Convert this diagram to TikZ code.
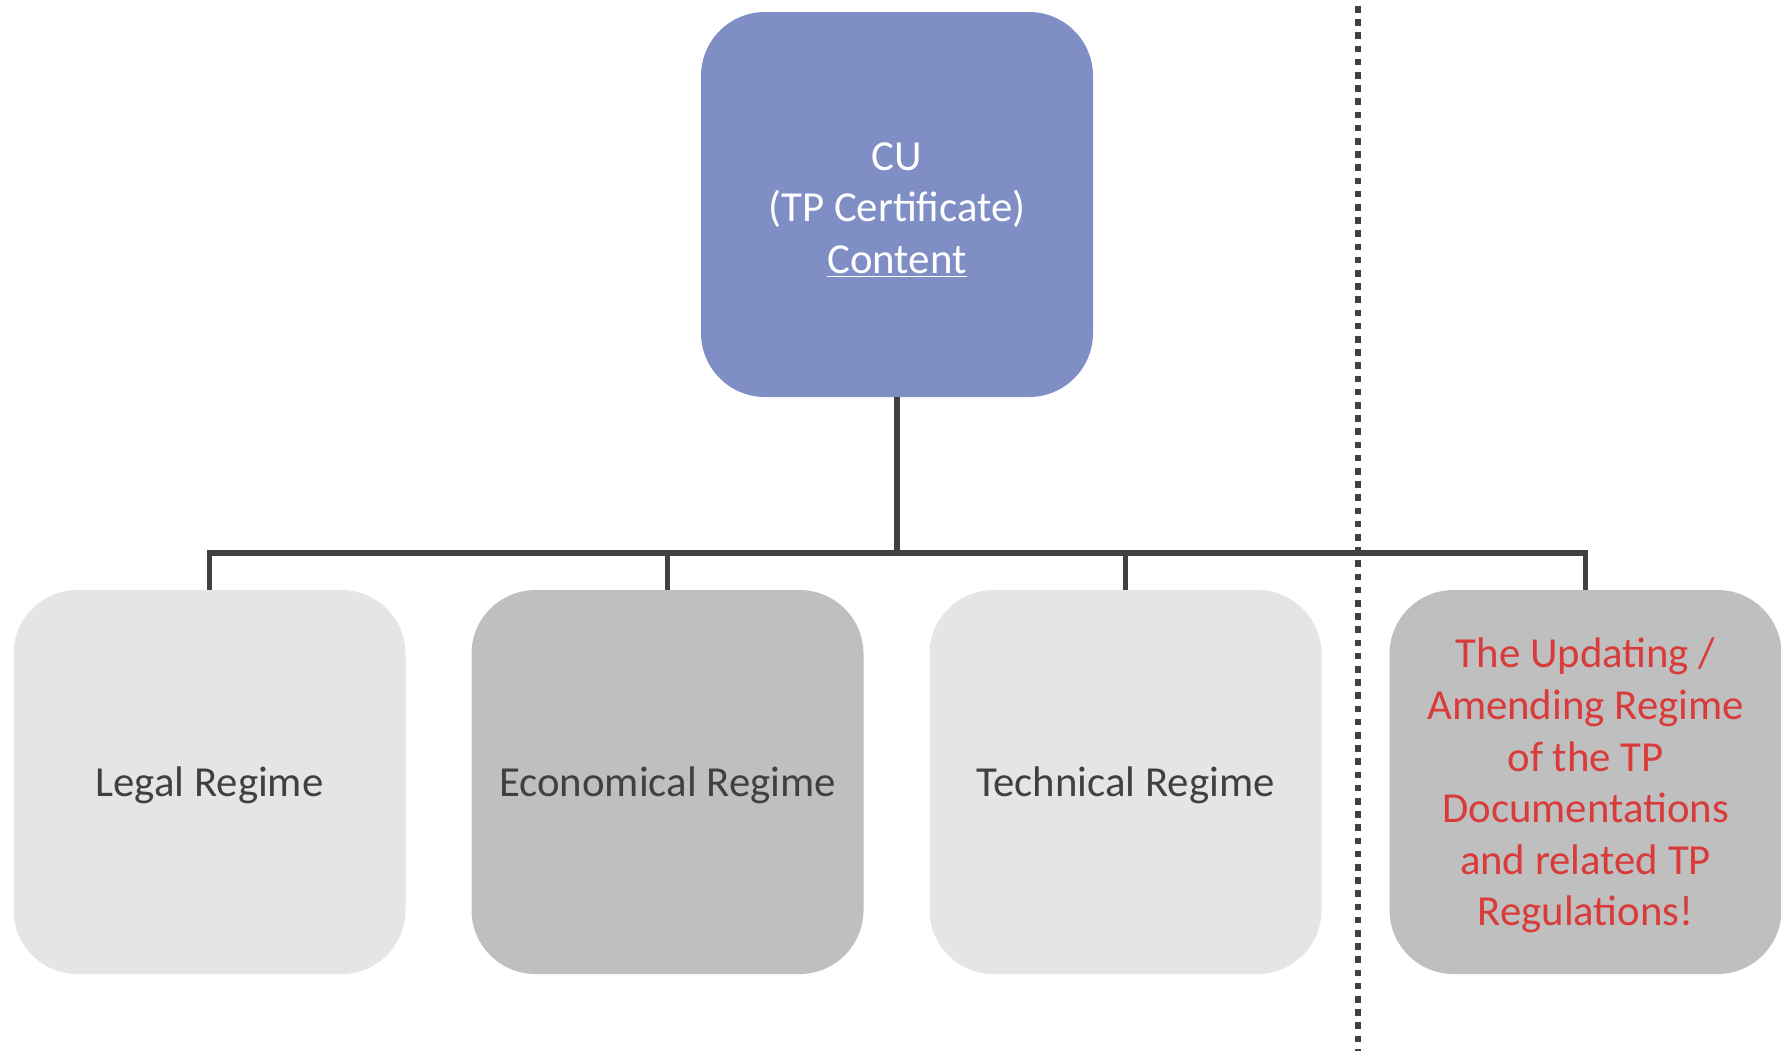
\documentclass[tikz,border=0pt]{standalone}
\usepackage{fontspec}
\setmainfont{Carlito}
\definecolor{topblue}{RGB}{127,142,196}
\definecolor{lightbox}{RGB}{229,229,229}
\definecolor{darkbox}{RGB}{191,191,191}
\definecolor{linegray}{RGB}{64,64,64}
\definecolor{txtgray}{RGB}{64,64,64}
\definecolor{txtred}{RGB}{217,59,59}
\begin{document}
\begin{tikzpicture}[x=0.5pt,y=-0.5pt,
  box/.style={rounded corners=32pt, minimum width=196pt, minimum height=192pt,
    inner sep=0pt, align=center, text depth=0pt, font=\fontsize{21.4}{25.8}\selectfont},
  lightregime/.style={box, fill=lightbox, text=txtgray},
  darkregime/.style={box, fill=darkbox, text=txtgray},
  conn/.style={draw=linegray, line width=2.8pt},
  sep/.style={draw=linegray, line width=3pt, dash pattern=on 3.3pt off 3.3pt}]
\useasboundingbox (0,0) rectangle (1781,1051);
\node[box, fill=topblue, text=white, minimum height=192.5pt, text height=68.8pt] (top) at (897,204.5)
  {CU\\(TP Certificate)\\\underline{Content}};
\node[lightregime] (legal) at (209.5,782) {Legal Regime};
\node[darkregime] (econ) at (667.5,782) {Economical Regime};
\node[lightregime] (tech) at (1125.5,782) {Technical Regime};
\node[darkregime, text=txtred] (upd) at (1585.5,782)
  {The Updating /\\Amending Regime\\of the TP\\Documentations\\and related TP\\Regulations!};
\coordinate (bus) at (897,553);
\draw[conn] (top.south) -- (bus);
\draw[conn] (bus) -| (legal.north);
\draw[conn] (bus) -| (econ.north);
\draw[conn] (bus) -| (tech.north);
\draw[conn] (bus) -| (upd.north);
\coordinate (septop) at (1358,6);
\coordinate (sepbot) at (1358,1051);
\draw[sep] (septop) -- (sepbot);
\end{tikzpicture}
\end{document}
